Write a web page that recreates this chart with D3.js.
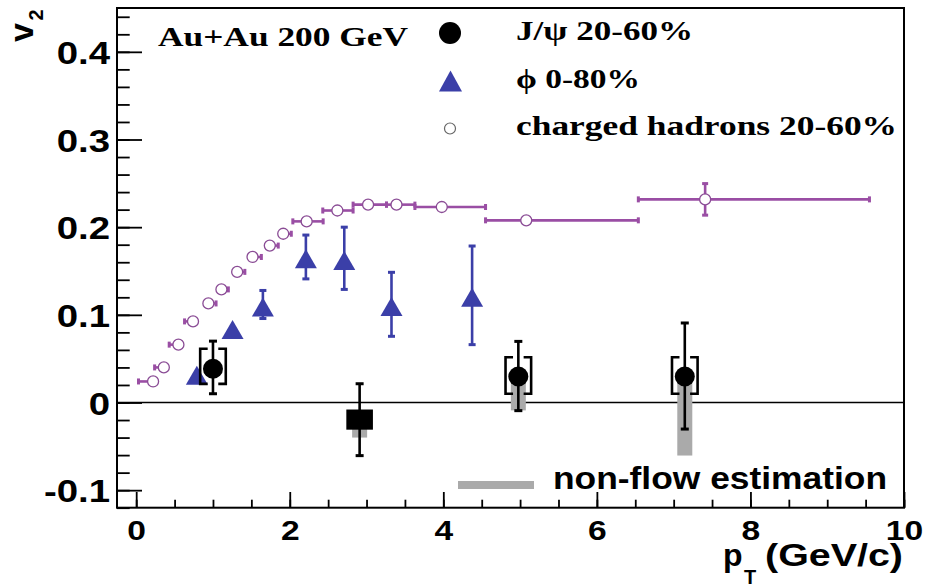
<!DOCTYPE html>
<html>
<head>
<meta charset="utf-8">
<script src="https://cdn.jsdelivr.net/npm/d3@7"></script>
<style>
  html, body { margin: 0; padding: 0; background: #fff; }
  svg { display: block; }
</style>
</head>
<body>
<svg id="chart" width="926" height="587"></svg>
<script>
// ---------------- data ----------------
// charged hadrons 20-60%
const chPt    = [0.22, 0.36, 0.55, 0.74, 0.94, 1.11, 1.315, 1.515, 1.74, 1.915, 2.22, 2.62, 3.02, 3.39, 3.98, 5.08, 7.41];
const chV2    = [0.024, 0.040, 0.066, 0.0925, 0.113, 0.129, 0.149, 0.166, 0.179, 0.1925, 0.2066, 0.219, 0.2257, 0.2257, 0.223, 0.2078, 0.2317];
const chPtLo  = [0.03, 0.24, 0.43, 0.63, 0.94, 1.11, 1.315, 1.515, 1.74, 1.915, 2.04, 2.43, 2.825, 3.26, 3.63, 4.55, 6.54];
const chPtHi  = [0.22, 0.36, 0.55, 0.74, 1.04, 1.20, 1.415, 1.63, 1.85, 2.02, 2.435, 2.825, 3.26, 3.63, 4.55, 6.54, 9.55];
const chV2Err = [0, 0, 0, 0, 0, 0, 0, 0, 0, 0, 0, 0, 0, 0, 0, 0, 0.018];

// phi 0-80%
const phiPt    = [0.79, 1.255, 1.65, 2.21, 2.71, 3.325, 4.375];
const phiV2    = [0.031, 0.0833, 0.1088, 0.164, 0.162, 0.1095, 0.120];
const phiErrUp = [0.0, 0.0, 0.019, 0.027, 0.038, 0.039, 0.0585];
const phiErrDn = [0.0, 0.0, 0.013, 0.023, 0.033, 0.034, 0.054];

// J/psi 20-60%
const jpsiPt     = [1.0, 2.91, 4.977, 7.145];
const jpsiV2     = [0.0385, -0.0196, 0.0297, 0.0297];
const jpsiErrUp  = [0.0315, 0.041, 0.040, 0.061];
const jpsiErrDn  = [0.0285, 0.041, 0.039, 0.060];
const jpsiSysHi  = [0.0613, -0.008, 0.0517, 0.0517];
const jpsiSysLo  = [0.0213, -0.031, 0.0099, 0.0099];
const jpsiNonFlowLo = [null, -0.040, -0.009, -0.0605];
const jpsiMarker = ["circle", "square", "circle", "circle"];

// axis ticks
const xMajorTicks = [0, 2, 4, 6, 8, 10];
const yMajorTicks = [-0.1, 0, 0.1, 0.2, 0.3, 0.4];
const yTickLabels = ["-0.1", "0", "0.1", "0.2", "0.3", "0.4"];

// legend texts
const legendTitle = "Au+Au 200 GeV";
const legendLabels = ["J/\u03C8 20-60%", "\u03D5 0-80%", "charged hadrons 20-60%"];
const nonFlowLabel = "non-flow estimation";

// ---------------- drawing ----------------
const svg = d3.select("#chart");
const L = 117, R = 904, T = 8, B = 507.7;
const x = d3.scaleLinear().domain([-0.25, 10]).range([L, R]);
const y = d3.scaleLinear().domain([-0.12, 0.45]).range([B, T]);

const PURPLE = "#9a4ea4";
const BLUE = "#3b3fa8";
const GRAY = "#aaaaaa";
const SANS = "'Liberation Sans', Arial, Helvetica, sans-serif";
const SERIF = "'Liberation Serif', 'Times New Roman', Times, serif";

svg.append("rect").attr("width", 926).attr("height", 587).attr("fill", "#fff");

// minor ticks
svg.append("g").attr("transform", `translate(${L},0)`)
  .call(d3.axisLeft(y).tickValues(y.ticks(30)).tickSizeInner(-12.7).tickSizeOuter(0).tickFormat(""))
  .call(g => g.select(".domain").remove())
  .call(g => g.selectAll("line").attr("stroke", "#000").attr("stroke-width", 1.8));
svg.append("g").attr("transform", `translate(0,${B})`)
  .call(d3.axisBottom(x).tickValues(x.ticks(20)).tickSizeInner(-8).tickSizeOuter(0).tickFormat(""))
  .call(g => g.select(".domain").remove())
  .call(g => g.selectAll("line").attr("stroke", "#000").attr("stroke-width", 1.8));

// major y axis
svg.append("g").attr("transform", `translate(${L},0)`)
  .call(d3.axisLeft(y).tickValues(yMajorTicks).tickSizeInner(-25).tickSizeOuter(0)
    .tickFormat((d, i) => yTickLabels[i]))
  .call(g => g.select(".domain").remove())
  .call(g => g.selectAll("line").attr("stroke", "#000").attr("stroke-width", 1.8))
  .call(g => g.selectAll("text")
    .attr("x", -5.8).attr("dy", "0.36em")
    .attr("transform", "scale(1.2,1)")
    .attr("fill", "#000")
    .style("font-family", SANS).style("font-weight", "bold").style("font-size", "32px"));

// major x axis
svg.append("g").attr("transform", `translate(0,${B})`)
  .call(d3.axisBottom(x).tickValues(xMajorTicks).tickSizeInner(-15.7).tickSizeOuter(0)
    .tickFormat(d3.format("d")))
  .call(g => g.select(".domain").remove())
  .call(g => g.selectAll("line").attr("stroke", "#000").attr("stroke-width", 1.8))
  .call(g => g.selectAll("text")
    .attr("y", 32).attr("dy", 0)
    .attr("transform", "scale(1.2,1)")
    .attr("fill", "#000")
    .style("font-family", SANS).style("font-weight", "bold").style("font-size", "28px"));

// frame
svg.append("rect").attr("x", L).attr("y", T).attr("width", R - L).attr("height", B - T)
  .attr("fill", "none").attr("stroke", "#000").attr("stroke-width", 2);

// zero line
svg.append("line").attr("x1", L).attr("x2", R).attr("y1", y(0)).attr("y2", y(0))
  .attr("stroke", "#000").attr("stroke-width", 1.5);

// ---- charged hadrons ----
const gCh = svg.append("g");
chPt.forEach((p, i) => {
  const yy = y(chV2[i]);
  gCh.append("line").attr("x1", x(chPtLo[i])).attr("x2", x(chPtHi[i]))
    .attr("y1", yy).attr("y2", yy).attr("stroke", PURPLE).attr("stroke-width", 2.6);
  if (chPtLo[i] < p) gCh.append("rect").attr("x", x(chPtLo[i]) - 1.5).attr("y", yy - 3)
    .attr("width", 3).attr("height", 6).attr("fill", PURPLE);
  if (chPtHi[i] > p) gCh.append("rect").attr("x", x(chPtHi[i]) - 1.5).attr("y", yy - 3)
    .attr("width", 3).attr("height", 6).attr("fill", PURPLE);
  if (chV2Err[i] > 0) {
    const y1 = y(chV2[i] + chV2Err[i]), y2 = y(chV2[i] - chV2Err[i]);
    gCh.append("line").attr("x1", x(p)).attr("x2", x(p)).attr("y1", y1).attr("y2", y2)
      .attr("stroke", PURPLE).attr("stroke-width", 2.6);
    [y1, y2].forEach(v => gCh.append("rect").attr("x", x(p) - 3).attr("y", v - 1.5)
      .attr("width", 6).attr("height", 3).attr("fill", PURPLE));
  }
});
gCh.selectAll("circle").data(chPt).join("circle")
  .attr("cx", d => x(d)).attr("cy", (d, i) => y(chV2[i])).attr("r", 5.5)
  .attr("fill", "#fff").attr("stroke", "#8a4c95").attr("stroke-width", 1.3);

// ---- phi ----
const gPhi = svg.append("g");
phiPt.forEach((p, i) => {
  const cx = x(p);
  if (phiErrUp[i] > 0 || phiErrDn[i] > 0) {
    const y1 = y(phiV2[i] + phiErrUp[i]), y2 = y(phiV2[i] - phiErrDn[i]);
    gPhi.append("line").attr("x1", cx).attr("x2", cx).attr("y1", y1).attr("y2", y2)
      .attr("stroke", BLUE).attr("stroke-width", 2.6);
    [y1, y2].forEach(v => gPhi.append("rect").attr("x", cx - 3.5).attr("y", v - 1.5)
      .attr("width", 7).attr("height", 3).attr("fill", BLUE));
  }
});
const tri = (cx, cy, w, h) => `M${cx - w / 2},${cy + h / 2}L${cx + w / 2},${cy + h / 2}L${cx},${cy - h / 2}Z`;
gPhi.selectAll("path.tri").data(phiPt).join("path").attr("class", "tri")
  .attr("d", (d, i) => tri(x(d), y(phiV2[i]), 22, 19)).attr("fill", BLUE);

// ---- J/psi ----
const gJ = svg.append("g");
jpsiPt.forEach((p, i) => {
  const cx = x(p);
  if (jpsiNonFlowLo[i] !== null) {
    const y1 = y(jpsiV2[i]), y2 = y(jpsiNonFlowLo[i]);
    gJ.append("rect").attr("x", cx - 7.5).attr("y", y1).attr("width", 15).attr("height", y2 - y1)
      .attr("fill", GRAY);
  }
});
jpsiPt.forEach((p, i) => {
  const cx = x(p);
  const yt = y(jpsiSysHi[i]), yb = y(jpsiSysLo[i]);
  const hw = 12.8, stub = 7.5;
  if (jpsiMarker[i] === "square") {
    gJ.append("rect").attr("x", cx - 13.3).attr("y", yt).attr("width", 26.6).attr("height", yb - yt)
      .attr("fill", "#000");
  } else {
    gJ.append("path")
      .attr("d", `M${cx - hw + stub},${yt}H${cx - hw}V${yb}H${cx - hw + stub}` +
                 `M${cx + hw - stub},${yt}H${cx + hw}V${yb}H${cx + hw - stub}`)
      .attr("fill", "none").attr("stroke", "#000").attr("stroke-width", 2.6);
  }
  const y1 = y(jpsiV2[i] + jpsiErrUp[i]), y2 = y(jpsiV2[i] - jpsiErrDn[i]);
  gJ.append("line").attr("x1", cx).attr("x2", cx).attr("y1", y1).attr("y2", y2)
    .attr("stroke", "#000").attr("stroke-width", 2.6);
  [y1, y2].forEach(v => gJ.append("rect").attr("x", cx - 4).attr("y", v - 1.5)
    .attr("width", 8).attr("height", 3).attr("fill", "#000"));
  if (jpsiMarker[i] === "circle") {
    gJ.append("circle").attr("cx", cx).attr("cy", y(jpsiV2[i])).attr("r", 10).attr("fill", "#000");
  }
});

// ---- legend ----
svg.append("text").attr("x", 158).attr("y", 46).text(legendTitle)
  .attr("textLength", 250).attr("lengthAdjust", "spacingAndGlyphs")
  .style("font-family", SERIF).style("font-weight", "bold").style("font-size", "28px");

svg.append("circle").attr("cx", 450).attr("cy", 33).attr("r", 11).attr("fill", "#000");
svg.append("path").attr("d", tri(450.5, 81, 23, 21)).attr("fill", BLUE);
svg.append("circle").attr("cx", 450).attr("cy", 128.5).attr("r", 5.5)
  .attr("fill", "#fff").attr("stroke", "#666").attr("stroke-width", 1.2);

const legY = [40, 88, 135];
const legLen = [177, 124, 381];
legendLabels.forEach((t, i) => {
  svg.append("text").attr("x", 516).attr("y", legY[i]).text(t)
    .attr("textLength", legLen[i]).attr("lengthAdjust", "spacingAndGlyphs")
    .style("font-family", SERIF).style("font-weight", "bold").style("font-size", "28px");
});

svg.append("rect").attr("x", 458).attr("y", 481).attr("width", 76).attr("height", 8).attr("fill", GRAY);
svg.append("text").attr("x", 553).attr("y", 489).text(nonFlowLabel)
  .attr("textLength", 334).attr("lengthAdjust", "spacingAndGlyphs")
  .style("font-family", SANS).style("font-weight", "bold").style("font-size", "32px");

// ---- axis titles ----
const tStyle = s => s.style("font-family", SANS).style("font-weight", "bold").attr("fill", "#000");
svg.append("text").attr("x", 723).attr("y", 566).text("p").style("font-size", "32px").call(tStyle);
svg.append("text").attr("x", 744).attr("y", 584).text("T").style("font-size", "20px").call(tStyle);
svg.append("text").attr("x", 765).attr("y", 566).text("(GeV/c)")
  .attr("textLength", 138).attr("lengthAdjust", "spacingAndGlyphs").style("font-size", "32px").call(tStyle);

svg.append("text").attr("transform", "translate(33,42) rotate(-90)").text("v")
  .style("font-size", "34px").call(tStyle);
svg.append("text").attr("transform", "translate(43,20.5) rotate(-90)").text("2")
  .style("font-size", "20px").call(tStyle);
</script>
</body>
</html>
